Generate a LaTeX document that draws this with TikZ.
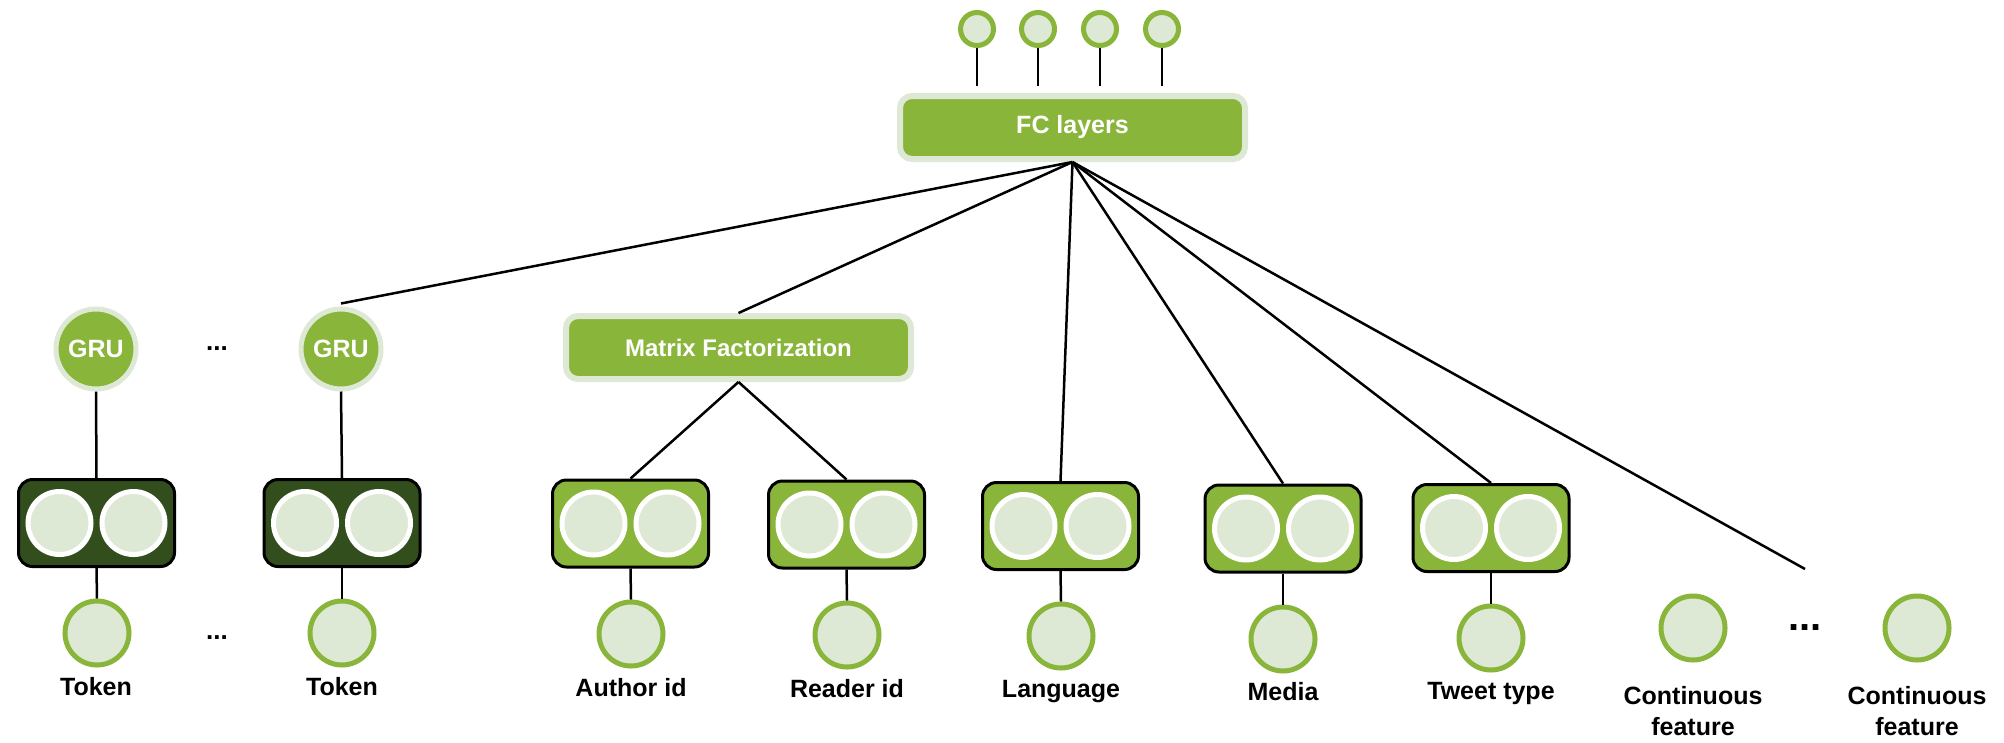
\documentclass[tikz,border=0pt]{standalone}
\usepackage{fontspec}
\setmainfont{Liberation Sans}
\usetikzlibrary{calc}
\definecolor{lgreen}{RGB}{136,181,58}
\definecolor{pale}{RGB}{221,233,213}
\definecolor{dgreen}{RGB}{51,78,29}
\begin{document}
\begin{tikzpicture}[x=1pt,y=-1pt,
  inc/.style={circle,draw=lgreen,fill=pale,line width=5pt,minimum size=64pt,inner sep=0pt},
  outc/.style={circle,draw=lgreen,fill=pale,line width=5pt,minimum size=33pt,inner sep=0pt},
  embbox/.style={draw=black,line width=3pt,rounded corners=14pt,minimum width=156pt,minimum height=87pt,inner sep=0pt},
  embdark/.style={embbox,fill=dgreen},
  embgreen/.style={embbox,fill=lgreen},
  slot/.style={circle,draw=white,fill=pale,line width=5pt,minimum size=63pt,inner sep=0pt},
  gru/.style={circle,draw=pale,fill=lgreen,line width=5pt,minimum size=80pt,inner sep=0pt,text=white,font=\fontsize{25}{30}\selectfont\bfseries},
  layer/.style={draw=pale,fill=lgreen,line width=6pt,rounded corners=12pt,minimum width=345pt,minimum height=63pt,inner sep=0pt,text=white,font=\fontsize{25}{30}\selectfont\bfseries},
  lbl/.style={font=\fontsize{25}{31}\selectfont\bfseries,align=center,inner sep=0pt},
  dots/.style={font=\fontsize{26}{30}\selectfont\bfseries,inner sep=0pt,anchor=base},
  conn/.style={line width=2.5pt}
]
\useasboundingbox (0,0) rectangle (2004,742);

% output layer
\node[layer] (fc) at (1072.5,127.5) {FC layers};
\node[outc] (o1) at (977,29) {};
\node[outc] (o2) at (1038,29) {};
\node[outc] (o3) at (1100,29) {};
\node[outc] (o4) at (1162,29) {};
\foreach \o in {o1,o2,o3,o4}
  \draw[conn,shorten >=7pt] (\o.south) -- (\o.south |- fc.north);

% GRUs
\node[gru] (gru1) at (96,349) {GRU};
\node[gru] (gru2) at (341,349) {GRU};
\node[dots] (d1) at (217,350.5) {...};

% matrix factorization
\node[layer,font=\fontsize{24}{30}\selectfont\bfseries] (mf) at (738.5,347.5) {Matrix Factorization};

% embedding boxes
\node[embdark]  (e1) at (96.5,523) {};
\node[embdark]  (e2) at (342,523) {};
\node[embgreen] (e3) at (630.5,523.5) {};
\node[embgreen] (e4) at (846.5,524.5) {};
\node[embgreen] (e5) at (1060.5,526) {};
\node[embgreen] (e6) at (1283,528.5) {};
\node[embgreen] (e7) at (1491,528) {};
\foreach \e in {e1,e2,e3,e4,e5,e6,e7}{
  \node[slot] (\e l) at ($(\e.center)+(-37,0)$) {};
  \node[slot] (\e r) at ($(\e.center)+(37,0)$) {};
}

% input circles
\node[inc] (i1) at (97,633) {};
\node[inc] (i2) at (342,633) {};
\node[inc] (i3) at (631,634) {};
\node[inc] (i4) at (847,635) {};
\node[inc] (i5) at (1061,636) {};
\node[inc] (i6) at (1283,639) {};
\node[inc] (i7) at (1491,638) {};
\node[inc] (c1) at (1693,628) {};
\node[inc] (c2) at (1917,628) {};
\node[dots] (d2) at (217,639) {...};
\node[dots,font=\fontsize{40}{44}\selectfont\bfseries] (d3) at (1805,630) {...};

% labels
\node[lbl,anchor=base] (t1) at (96,695) {Token};
\node[lbl,anchor=base] (t2) at (342,695) {Token};
\node[lbl,anchor=base] (t3) at (631,696) {Author id};
\node[lbl,anchor=base] (t4) at (847,697) {Reader id};
\node[lbl,anchor=base] (t5) at (1061,697) {Language};
\node[lbl,anchor=base] (t6) at (1283,700) {Media};
\node[lbl,anchor=base] (t7) at (1491,699) {Tweet type};
\node[lbl,anchor=north] (t8) at (1693,686) {Continuous\\feature};
\node[lbl,anchor=north] (t9) at (1917,686) {Continuous\\feature};

% connectors
\draw[conn] (gru1.south) -- (e1.north);
\draw[conn] (gru2.south) -- (e2.north);
\draw[conn] (e1.south) -- (i1.north);
\draw[conn] (e2.south) -- (i2.north);
\draw[conn] (e3.south) -- (i3.north);
\draw[conn] (e4.south) -- (i4.north);
\draw[conn] (e5.south) -- (i5.north);
\draw[conn] (e6.south) -- (i6.north);
\draw[conn] (e7.south) -- (i7.north);
\draw[conn] (mf.south) -- (e3.north);
\draw[conn] (mf.south) -- (e4.north);
\coordinate (free) at (1805,569);
\draw[conn] (fc.south) -- ($(gru2.north)+(0,-3)$);
\draw[conn] (fc.south) -- (mf.north);
\draw[conn] (fc.south) -- (e5.north);
\draw[conn] (fc.south) -- (e6.north);
\draw[conn] (fc.south) -- (e7.north);
\draw[conn] (fc.south) -- (free);
\end{tikzpicture}
\end{document}
